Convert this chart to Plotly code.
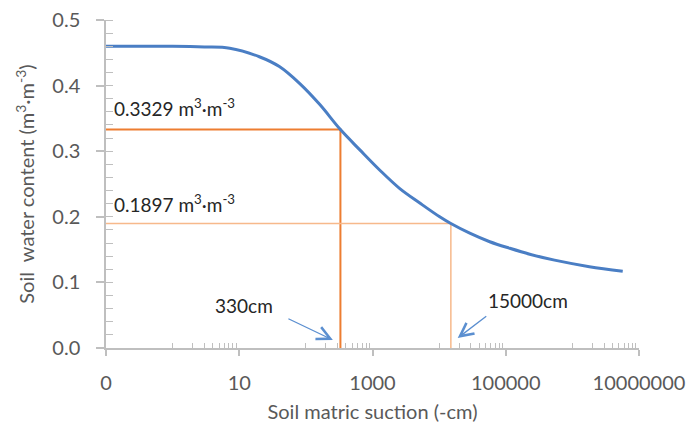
import plotly.graph_objects as go
import numpy as np

# Data
suction = [0.1, 1, 3, 7.2, 20, 40, 81, 162, 330, 646, 1290, 2570, 5130, 10200,
           15000, 28800, 57500, 115000, 229000, 540000, 1800000, 5700000]
theta = [0.460, 0.460, 0.459, 0.457, 0.444, 0.429, 0.403, 0.371, 0.3329, 0.302,
         0.271, 0.243, 0.221, 0.200, 0.1897, 0.175, 0.162, 0.152, 0.143, 0.134, 0.124, 0.117]

fc_suction, fc_theta = 330, 0.3329
wp_suction, wp_theta = 15000, 0.1897

x_tickvals = [0.1, 10, 1000, 100000, 10000000]
x_ticktext = ["0", "10", "1000", "100000", "10000000"]
y_tickvals = [0.0, 0.1, 0.2, 0.3, 0.4, 0.5]
y_ticktext = ["0.0", "0.1", "0.2", "0.3", "0.4", "0.5"]

x_min = 0.1

# minor tick positions (1..9 within each two-decade step)
x_minor = []
for base in [1, 100, 10000, 1000000]:
    for k in range(1, 10):
        x_minor.append(base * k)

FONT = "Lato, 'Open Sans', sans-serif"
GREY = "#BFBFBF"
TXT = "#595959"
LBL = "#262626"
FS = 20

fig = go.Figure()

fig.add_trace(go.Scatter(x=[x_min, fc_suction, fc_suction], y=[fc_theta, fc_theta, 0],
                         mode="lines", line=dict(color="#ED7D31", width=2),
                         hoverinfo="skip", showlegend=False))
fig.add_trace(go.Scatter(x=[x_min, wp_suction, wp_suction], y=[wp_theta, wp_theta, 0],
                         mode="lines", line=dict(color="#F7B98B", width=1.5),
                         hoverinfo="skip", showlegend=False))
fig.add_trace(go.Scatter(x=suction, y=theta, mode="lines",
                         line=dict(color="#4A7EC4", width=3, shape="spline", smoothing=1.0),
                         showlegend=False))

fig.add_annotation(x=np.log10(0.125), y=0.366, xref="x", yref="y",
                   text="0.3329 m<sup>3</sup>·m<sup>-3</sup>", showarrow=False,
                   xanchor="left", yanchor="middle", font=dict(size=FS - 1, color=LBL, family=FONT))
fig.add_annotation(x=np.log10(0.125), y=0.220, xref="x", yref="y",
                   text="0.1897 m<sup>3</sup>·m<sup>-3</sup>", showarrow=False,
                   xanchor="left", yanchor="middle", font=dict(size=FS - 1, color=LBL, family=FONT))

fig.add_annotation(x=np.log10(254), y=0.0122, xref="x", yref="y",
                   ax=np.log10(51.9), ay=0.0457, axref="x", ayref="y",
                   text="", showarrow=True, arrowhead=5, arrowsize=2, arrowwidth=1.3,
                   arrowcolor="#5B8FD0")
fig.add_annotation(x=np.log10(11.8), y=0.0655, xref="x", yref="y",
                   text="330cm", showarrow=False, font=dict(size=FS - 1, color=LBL, family=FONT))

fig.add_annotation(x=np.log10(19000), y=0.0152, xref="x", yref="y",
                   ax=np.log10(53700), ay=0.0503, axref="x", ayref="y",
                   text="", showarrow=True, arrowhead=5, arrowsize=2, arrowwidth=1.3,
                   arrowcolor="#5B8FD0")
fig.add_annotation(x=np.log10(213000), y=0.073, xref="x", yref="y",
                   text="15000cm", showarrow=False, font=dict(size=FS - 1, color=LBL, family=FONT))

fig.update_layout(
    width=692, height=429,
    margin=dict(l=106, r=53, t=20, b=81),
    paper_bgcolor="white", plot_bgcolor="white",
    font=dict(family=FONT, size=FS, color=TXT),
    xaxis=dict(type="log", range=[-1, 7], tickvals=x_tickvals, ticktext=x_ticktext,
               automargin=False,
               showgrid=False, zeroline=False, showline=True, linecolor=GREY, linewidth=1.5,
               ticks="outside", ticklen=6, tickcolor=GREY, tickwidth=1.5, ticklabelstandoff=10,
               minor=dict(tickvals=x_minor, ticks="inside", ticklen=5, tickcolor=GREY, tickwidth=1),
               tickfont=dict(size=FS, color=TXT),
               title=dict(text="Soil matric suction (-cm)", font=dict(size=FS, color=TXT), standoff=12)),
    yaxis=dict(range=[0, 0.5], tickvals=y_tickvals, ticktext=y_ticktext,
               automargin=False,
               showgrid=False, zeroline=False, showline=True, linecolor=GREY, linewidth=1.5,
               ticks="outside", ticklen=8, tickcolor=GREY, tickwidth=1.5, ticklabelstandoff=12,
               minor=dict(dtick=0.02, ticks="inside", ticklen=7, tickcolor=GREY, tickwidth=1),
               tickfont=dict(size=FS, color=TXT),
               title=dict(text="Soil  water content (m<sup>3</sup>·m<sup>-3</sup>)",
                          font=dict(size=FS, color=TXT), standoff=12)),
)

fig.write_html("out.html", config={"displayModeBar": False},
               post_script="document.body.style.margin='0';document.body.style.overflow='hidden';")
